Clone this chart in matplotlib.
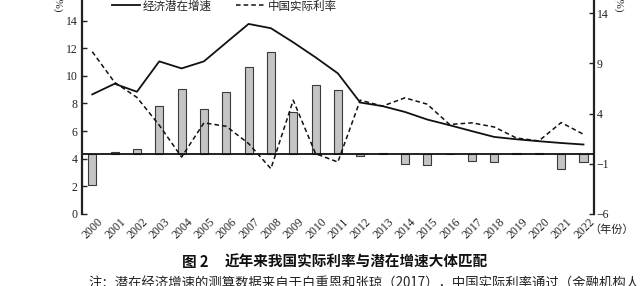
import matplotlib
matplotlib.use("Agg")
import matplotlib.pyplot as plt
from matplotlib.lines import Line2D
from matplotlib.transforms import ScaledTranslation

years = ["2000", "2001", "2002", "2003", "2004", "2005", "2006", "2007", "2008",
         "2009", "2010", "2011", "2012", "2013", "2014", "2015", "2016", "2017",
         "2018", "2019", "2020", "2021", "2022"]
potential_growth = [8.66, 9.43, 8.85, 11.05, 10.54, 11.05, 12.41, 13.76, 13.45,
                    12.43, 11.34, 10.18, 8.07, 7.81, 7.39, 6.84, 6.43, 6.0,
                    5.58, 5.41, 5.27, 5.14, 5.03]
real_rate = [11.75, 9.53, 8.44, 6.43, 4.12, 6.6, 6.35, 5.1, 3.28, 8.24, 4.37,
             3.76, 8.24, 7.81, 8.41, 7.95, 6.48, 6.6, 6.3, 5.5, 5.29, 6.62, 5.77]
gap = [-3.14, 0.2, 0.46, 4.76, 6.43, 4.46, 6.1, 8.63, 10.16, 4.2, 6.86, 6.36,
       -0.24, 0.06, -1.04, -1.17, -0.05, -0.72, -0.8, 0.03, 0.03, -1.54, -0.8]
left_ticks = [0, 2, 4, 6, 8, 10, 12, 14]
right_ticks = [-6, -1, 4, 9, 14]

legend_labels = ["经济潜在增速", "中国实际利率"]
caption_no = "图 2"
caption = "近年来我国实际利率与潜在增速大体匹配"
note = "注：潜在经济增速的测算数据来自于白重恩和张琼（2017），中国实际利率通过（金融机构人"

CJK = ["Noto Sans CJK SC", "DejaVu Sans"]
SERIF = ["Liberation Serif", "DejaVu Serif"]

W, H = 640, 286
fig = plt.figure(figsize=(W / 100, H / 100), dpi=100)
fig.patch.set_facecolor("white")

def fx(px):
    return px / W

def fy(py):
    return 1 - py / H

ax_left, ax_right, ax_bottom, ax_top = 82, 594, 214, -7
ax = fig.add_axes([fx(ax_left), fy(ax_bottom), fx(ax_right - ax_left),
                   (ax_bottom - ax_top) / H])
ax2 = ax.twinx()

x = list(range(len(years)))

# bars (right axis)
ax2.bar(x, gap, width=0.36, color="#c4c4c4", edgecolor="#3a3a3a", linewidth=0.8, zorder=2)
ax2.axhline(0, color="#111111", linewidth=1.3, zorder=3)
ax2.set_ylim(-6, 16)
ax2.set_yticks(right_ticks)

# lines (left axis)
ax.plot(x, potential_growth, color="#111111", linewidth=1.3, zorder=4)
ax.plot(x, real_rate, color="#111111", linewidth=1.1, linestyle=(0, (3, 2)), zorder=4)
ax.set_ylim(0, 16)
ax.set_yticks(left_ticks)
ax.set_xlim(-0.46, 22.47)
ax.set_zorder(ax2.get_zorder() + 1)
ax.patch.set_visible(False)

for a in (ax, ax2):
    a.spines["top"].set_visible(False)
    a.spines["bottom"].set_visible(False)
ax.spines["right"].set_visible(False)
ax2.spines["left"].set_visible(False)
ax.spines["left"].set_linewidth(1.6)
ax2.spines["right"].set_linewidth(1.6)
ax.spines["left"].set_color("#222222")
ax2.spines["right"].set_color("#222222")

ax.tick_params(axis="y", direction="in", length=3.5, width=1, pad=3,
               labelsize=8.5, colors="#222222")
ax2.tick_params(axis="y", direction="in", length=3.5, width=1, pad=2,
                labelsize=8.5, colors="#222222")
for lbl in ax.get_yticklabels() + ax2.get_yticklabels():
    lbl.set_family(SERIF)

ax.set_xticks(x)
ax.set_xticklabels(years, rotation=45, ha="right", va="top",
                   rotation_mode="anchor", family=SERIF, fontsize=8.5,
                   color="#222222")
ax.tick_params(axis="x", length=0, pad=1.5)
for lbl in ax.get_xticklabels():
    lbl.set_transform(lbl.get_transform() + ScaledTranslation(5 / 100, 0, fig.dpi_scale_trans))

# unit labels
fig.text(fx(57), fy(4), "(%)", rotation=-90, ha="center", va="center",
         family=SERIF, fontsize=8, color="#222222")
fig.text(fx(618), fy(4), "(%)", rotation=-90, ha="center", va="center",
         family=SERIF, fontsize=8, color="#222222")
fig.text(fx(589), fy(230), "（年份）", ha="left", va="center",
         family=CJK, fontsize=8, color="#222222")

# legend
handles = [Line2D([], [], color="#111111", linewidth=1.3),
           Line2D([], [], color="#111111", linewidth=1.1, linestyle=(0, (3, 2)))]
fig.legend(handles, legend_labels, loc="center left",
           bbox_to_anchor=(fx(112), fy(6)), ncol=2, frameon=False,
           prop={"family": CJK, "size": 8.3}, handlelength=2.45,
           handletextpad=0.25, columnspacing=2.1, borderpad=0,
           borderaxespad=0, labelcolor="#222222")

# caption & note
fig.text(fx(182), fy(262), caption_no, ha="left", va="center", family=CJK,
         fontsize=10.5, fontweight="bold", color="#111111")
fig.text(fx(225), fy(262), caption, ha="left", va="center", family=CJK,
         fontsize=10.5, fontweight="bold", color="#111111")
fig.text(fx(88), fy(276), note, ha="left", va="top", family=CJK,
         fontsize=9.6, color="#222222")

fig.savefig("out.png", dpi=100, facecolor="white")
